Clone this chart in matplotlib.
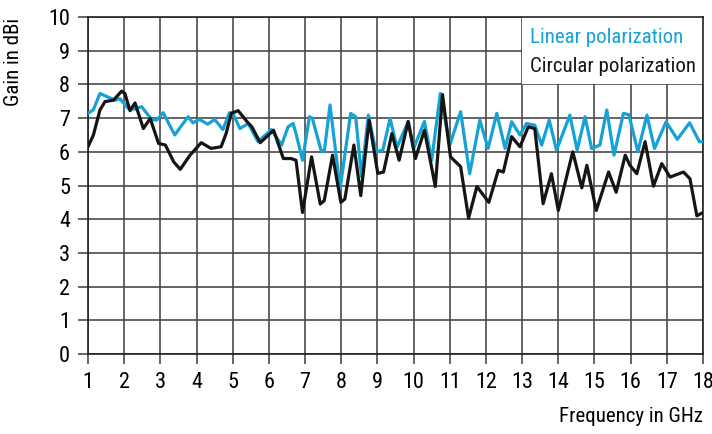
import numpy as np
import matplotlib
matplotlib.use('Agg')
import matplotlib.pyplot as plt
from matplotlib.patches import Rectangle

plt.rcParams['font.family'] = ['Roboto Condensed', 'DejaVu Sans']

# linear polarization (blue)
lin_f = [1.0, 1.15, 1.33, 1.5, 1.75, 1.88, 2.11, 2.3, 2.48, 2.76, 2.9, 3.08, 3.25, 3.4, 3.6, 3.77,
         3.9, 4.08, 4.31, 4.5, 4.73, 4.91, 5.0, 5.2, 5.43, 5.7, 6.07, 6.35, 6.53, 6.67, 6.75, 6.93,
         7.12, 7.2, 7.44, 7.53, 7.69, 7.97, 8.26, 8.4, 8.56, 8.75, 8.96, 9.15, 9.35, 9.54, 9.85,
         10.0, 10.3, 10.5, 10.74, 11.0, 11.3, 11.55, 11.83, 12.06, 12.3, 12.53, 12.71, 12.94,
         13.12, 13.35, 13.54, 13.75, 13.95, 14.32, 14.52, 14.74, 14.92, 15.15, 15.34, 15.54,
         15.8, 15.95, 16.2, 16.45, 16.66, 16.98, 17.29, 17.63, 17.9, 18.0]
lin_g = [7.14, 7.25, 7.73, 7.65, 7.53, 7.58, 7.29, 7.27, 7.34, 6.96, 6.94, 7.16, 6.8, 6.5, 6.8, 7.04,
         6.86, 6.96, 6.82, 6.96, 6.66, 7.16, 7.15, 6.69, 6.84, 6.3, 6.66, 6.2, 6.74, 6.84, 6.54, 5.75,
         7.04, 7.0, 6.05, 6.0, 7.39, 4.91, 7.14, 7.04, 5.26, 7.09, 6.0, 6.05, 6.99, 6.13, 6.9,
         6.1, 6.9, 5.75, 7.73, 6.2, 7.19, 5.35, 6.94, 6.1, 7.14, 6.1, 6.89, 6.5,
         6.84, 6.79, 6.2, 6.94, 6.05, 7.09, 6.05, 7.04, 6.1, 6.2, 7.24, 5.9,
         7.14, 7.1, 6.0, 7.09, 6.1, 6.89, 6.37, 6.86, 6.3, 6.3]

# circular polarization (black)
circ_f = [1.0, 1.15, 1.33, 1.47, 1.7, 1.93, 2.02, 2.16, 2.3, 2.53, 2.72, 2.95, 3.14, 3.37, 3.55,
          3.82, 4.13, 4.4, 4.68, 4.82, 4.96, 5.15, 5.4, 5.53, 5.76, 6.13, 6.4, 6.61, 6.75, 6.93,
          7.18, 7.42, 7.53, 7.76, 7.99, 8.1, 8.35, 8.54, 8.77, 9.01, 9.17, 9.4, 9.6, 9.85, 10.05,
          10.3, 10.6, 10.8, 11.02, 11.3, 11.52, 11.75, 12.08, 12.34, 12.48, 12.71, 12.94, 13.17,
          13.35, 13.58, 13.81, 14.0, 14.4, 14.65, 14.79, 15.05, 15.39, 15.6, 15.85, 15.98, 16.17,
          16.4, 16.63, 16.86, 17.09, 17.46, 17.64, 17.83, 18.0]
circ_g = [6.15, 6.5, 7.24, 7.49, 7.53, 7.8, 7.73, 7.22, 7.45, 6.69, 6.99, 6.25, 6.2, 5.7, 5.48,
          5.9, 6.27, 6.1, 6.15, 6.55, 7.14, 7.22, 6.89, 6.74, 6.27, 6.64, 5.8, 5.8, 5.75, 4.2,
          5.85, 4.45, 4.55, 5.9, 4.5, 4.6, 6.2, 4.7, 6.94, 5.36, 5.4, 6.54, 5.75, 6.9, 5.8,
          6.64, 4.97, 7.7, 5.85, 5.56, 4.03, 4.97, 4.5, 5.45, 5.4, 6.45, 6.15, 6.74,
          6.69, 4.46, 5.35, 4.26, 6.0, 4.93, 5.6, 4.26, 5.4, 4.8, 5.9, 5.6, 5.35,
          6.3, 4.98, 5.65, 5.25, 5.4, 5.2, 4.1, 4.2]

x_ticks = list(range(1, 19))
y_ticks = list(range(0, 11))

blue = '#16a2d5'
dark = '#151515'
grid_c = '#4a4a4a'

fig = plt.figure(figsize=(7.12, 4.34), dpi=100)
ax = fig.add_axes([88/712, 1 - 354/434, (703 - 88)/712, (354 - 17)/434])

ax.plot(lin_f, lin_g, color=blue, lw=2.3, solid_joinstyle='round', solid_capstyle='round', zorder=3)
ax.plot(circ_f, circ_g, color=dark, lw=2.3, solid_joinstyle='round', solid_capstyle='round', zorder=4)

ax.set_xlim(1, 18)
ax.set_ylim(0, 10)
ax.set_xticks(x_ticks)
ax.set_yticks(y_ticks)
ax.set_axisbelow(True)
ax.grid(True, color=grid_c, lw=1.2)
ax.tick_params(direction='out', length=7, width=1.2, color=grid_c, pad=6, labelsize=16)
for s in ax.spines.values():
    s.set_color('#222222')
    s.set_linewidth(1.2)

# white box behind the legend texts
ax.add_patch(Rectangle((13, 8), 5, 2, facecolor='white', edgecolor='none', zorder=1))
ax.text(13.22, 9.38, 'Linear polarization', color=blue, fontsize=15, va='center', zorder=5)
ax.text(13.22, 8.52, 'Circular polarization', color=dark, fontsize=15, va='center', zorder=5)

fig.text(14/712, 1 - 18/434, 'Gain in dBi', rotation=90, ha='center', va='top', fontsize=15)
fig.text(703/712, 1 - 417/434, 'Frequency in GHz', ha='right', va='center', fontsize=15)

fig.savefig('out.png', dpi=100)
